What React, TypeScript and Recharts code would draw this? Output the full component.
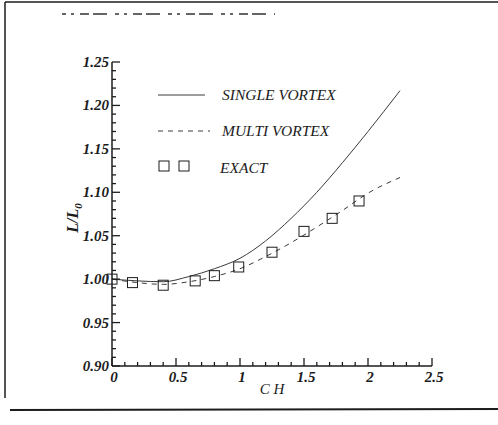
import { ComposedChart, Line, Scatter, XAxis, YAxis } from 'recharts'

// valores
const curveX = [0, 0.2, 0.4, 0.6, 0.8, 1.0, 1.2, 1.4, 1.6, 1.8, 2.0, 2.25]
const singleVortex = [1.0, 0.998, 0.997, 1.003, 1.012, 1.024, 1.044, 1.07, 1.1, 1.134, 1.17, 1.217]
const multiVortex = [1.0, 0.996, 0.994, 0.997, 1.003, 1.012, 1.026, 1.042, 1.06, 1.079, 1.099, 1.117]

const exactX = [0, 0.16, 0.4, 0.65, 0.8, 0.99, 1.25, 1.5, 1.72, 1.93]
const exactY = [1.0, 0.996, 0.993, 0.998, 1.004, 1.014, 1.031, 1.055, 1.07, 1.09]

const xMajorTicks = [0, 0.5, 1, 1.5, 2, 2.5]
const xTickLabels = ['0', '0.5', '1', '1.5', '2', '2.5']
const yMajorTicks = [0.9, 0.95, 1.0, 1.05, 1.1, 1.15, 1.2, 1.25]
const yTickLabels = ['0.90', '0.95', '1.00', '1.05', '1.10', '1.15', '1.20', '1.25']

const xMinorTicks: number[] = []
for (let i = 0; i <= 25; i++) xMinorTicks.push(+(i * 0.1).toFixed(2))
const yMinorTicks: number[] = []
for (let i = 0; i <= 35; i++) yMinorTicks.push(+(0.9 + i * 0.01).toFixed(2))

const singleData = curveX.map((x, i) => ({ x, y: singleVortex[i] }))
const multiData = curveX.map((x, i) => ({ x, y: multiVortex[i] }))
const exactData = exactX.map((x, i) => ({ x, y: exactY[i] }))

const INK = '#1c1c1c'
const FONT = '"Liberation Serif", "DejaVu Serif", serif'

const isMajor = (v: number, majors: number[]) => majors.some(m => Math.abs(m - v) < 1e-6)

function XTick(props: any) {
  const { x, y, payload } = props
  const v = payload.value as number
  const major = isMajor(v, xMajorTicks)
  const idx = xMajorTicks.findIndex(m => Math.abs(m - v) < 1e-6)
  return (
    <g>
      <line x1={x} y1={y} x2={x} y2={y - (major ? 8 : 4)} stroke={INK} strokeWidth={1.3} />
      {major && (
        <text x={x + 2} y={y + 16} textAnchor="middle" fontFamily={FONT} fontStyle="italic" fontWeight="bold" fontSize={15} fill={INK}>
          {xTickLabels[idx]}
        </text>
      )}
    </g>
  )
}

function YTick(props: any) {
  const { x, y, payload } = props
  const v = payload.value as number
  const major = isMajor(v, yMajorTicks)
  const idx = yMajorTicks.findIndex(m => Math.abs(m - v) < 1e-6)
  return (
    <g>
      <line x1={x} y1={y} x2={x + (major ? 8 : 4)} y2={y} stroke={INK} strokeWidth={1.3} />
      {major && (
        <text x={x - 3} y={y + 5} textAnchor="end" fontFamily={FONT} fontStyle="italic" fontWeight="bold" fontSize={15} fill={INK}>
          {yTickLabels[idx]}
        </text>
      )}
    </g>
  )
}

function Square(props: any) {
  const { cx, cy } = props
  if (cx == null || cy == null) return null
  return <rect x={cx - 5} y={cy - 5} width={10} height={10} fill="none" stroke={INK} strokeWidth={1} />
}

export default function App() {
  return (
    <div style={{ position: 'absolute', left: 0, top: 0, width: 498, height: 425, background: '#fff' }}>
      <ComposedChart width={498} height={425} margin={{ top: 62, right: 66, bottom: 58, left: 111 }}>
        <XAxis
          type="number"
          dataKey="x"
          domain={[0, 2.5]}
          ticks={xMinorTicks}
          interval={0}
          height={1}
          tickSize={0}
          tickMargin={0}
          tick={<XTick />}
          axisLine={{ stroke: INK, strokeWidth: 1.5 }}
        />
        <YAxis
          type="number"
          dataKey="y"
          domain={[0.9, 1.25]}
          ticks={yMinorTicks}
          interval={0}
          width={1}
          tickSize={0}
          tickMargin={0}
          tick={<YTick />}
          axisLine={{ stroke: INK, strokeWidth: 1.5 }}
        />
        <Line data={singleData} dataKey="y" type="monotone" stroke="#3a3a3a" strokeWidth={1} dot={false} isAnimationActive={false} />
        <Line data={multiData} dataKey="y" type="monotone" stroke="#3a3a3a" strokeWidth={1} strokeDasharray="5 5" dot={false} isAnimationActive={false} />
        <Scatter data={exactData} dataKey="y" shape={<Square />} isAnimationActive={false} />
      </ComposedChart>
      <svg width={498} height={425} style={{ position: 'absolute', left: 0, top: 0, pointerEvents: 'none' }}>
        {/* marco del escaneo */}
        <line x1={5} y1={2} x2={498} y2={2} stroke={INK} strokeWidth={1.5} />
        <line x1={5} y1={2} x2={5} y2={398} stroke={INK} strokeWidth={1.5} />
        <line x1={10} y1={410} x2={498} y2={409} stroke={INK} strokeWidth={1.8} />
        <line x1={62} y1={14} x2={275} y2={14} stroke="#333" strokeWidth={1.6} strokeDasharray="4 5 3 6 9 4 14 8" />
        {/* títulos de ejes */}
        <text transform="translate(78,218) rotate(-90)" textAnchor="middle" fontFamily={FONT} fontStyle="italic" fontWeight="bold" fontSize={16} fill={INK}>
          L/L<tspan fontSize={11} dy={4}>0</tspan>
        </text>
        <text x={272} y={394} textAnchor="middle" fontFamily={FONT} fontStyle="italic" fontSize={15} fill={INK}>
          C H
        </text>
        {/* leyenda */}
        <line x1={158} y1={95} x2={205} y2={95} stroke="#3a3a3a" strokeWidth={1} />
        <text x={222} y={100} fontFamily={FONT} fontStyle="italic" fontSize={15.5} fill={INK}>SINGLE VORTEX</text>
        <line x1={158} y1={131} x2={210} y2={131} stroke="#3a3a3a" strokeWidth={1} strokeDasharray="5 5" />
        <text x={222} y={136} fontFamily={FONT} fontStyle="italic" fontSize={15.5} fill={INK}>MULTI VORTEX</text>
        <rect x={159} y={161} width={10} height={10} fill="none" stroke={INK} strokeWidth={1} />
        <rect x={179} y={161} width={10} height={10} fill="none" stroke={INK} strokeWidth={1} />
        <text x={220} y={173} fontFamily={FONT} fontStyle="italic" fontSize={15.5} fill={INK}>EXACT</text>
      </svg>
    </div>
  )
}
